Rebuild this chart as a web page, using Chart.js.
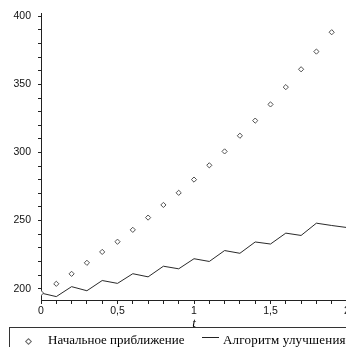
<!DOCTYPE html>
<html>
<head>
<meta charset="utf-8">
<script src="https://cdn.jsdelivr.net/npm/chart.js@4/dist/chart.umd.min.js"></script>
<style>
  html, body { margin: 0; padding: 0; background: #fff; overflow: hidden; width: 346px; height: 347px; }
  #plot { position: absolute; left: 0; top: 0; }
  #legend { position: absolute; left: 9px; top: 327px; width: 380px; height: 40px; border: 1px solid #333; box-sizing: border-box; }
  .lg-text { position: absolute; top: 333px; font: 13px "Liberation Serif", "Times New Roman", serif; line-height: 13px; color: #000; white-space: nowrap; }
  #lg-diamond { position: absolute; left: 26px; top: 339px; width: 3px; height: 3px; border: 1px solid #666; transform: rotate(45deg); }
  #lg-line { position: absolute; left: 202px; top: 337px; width: 17px; height: 1px; background: #222; }
</style>
</head>
<body>
<canvas id="plot" width="352" height="347"></canvas>
<div id="legend"></div>
<span id="lg-diamond"></span>
<span class="lg-text" style="left:48px">Начальное приближение</span>
<span id="lg-line"></span>
<span class="lg-text" style="left:223px;letter-spacing:0.2px">Алгоритм улучшения</span>
<script>
const tValues = [0, 0.1, 0.2, 0.3, 0.4, 0.5, 0.6, 0.7, 0.8, 0.9, 1.0,
                 1.1, 1.2, 1.3, 1.4, 1.5, 1.6, 1.7, 1.8, 1.9, 2.0];
// начальное приближение (точки); последняя выходит за верх графика
const initialApprox = [196.8, 203.6, 210.9, 219.0, 227.0, 234.5, 243.2, 252.2, 261.5, 270.4, 280.1,
                       290.6, 300.8, 312.3, 323.4, 335.3, 348.0, 361.1, 374.1, 388.3, 404.0];
// результат алгоритма улучшения (линия)
const improved = [196.8, 194.2, 201.5, 198.5, 206.0, 203.9, 211.0, 208.7, 216.5, 214.6, 222.0,
                  220.0, 228.0, 226.0, 234.3, 232.8, 240.8, 239.1, 248.1, 246.4, 244.9];
// view range (kept off the step grid so ticks land on whole tens)
const yMin = 191.7, yMax = 402.2;
const xMin = 0, xMax = 2;

const tickFont = { family: '"Liberation Sans", Arial, sans-serif', size: 10.5 };

function toXY(ys) { return tValues.map((t, i) => ({ x: t, y: ys[i] })); }
function isMult(v, step) { const q = v / step; return Math.abs(q - Math.round(q)) < 1e-6; }
function fmtComma(v) { return (Math.round(v * 10) / 10).toString().replace('.', ','); }

const ctx = document.getElementById('plot').getContext('2d');
new Chart(ctx, {
  type: 'scatter',
  data: {
    datasets: [
      {
        label: 'Начальное приближение',
        data: toXY(initialApprox),
        showLine: false,
        clip: 0,
        pointStyle: 'rectRot',
        pointRadius: 2.6,
        borderColor: '#505050',
        backgroundColor: '#ffffff',
        borderWidth: 1,
      },
      {
        label: 'Алгоритм улучшения',
        data: toXY(improved),
        showLine: true,
        borderColor: '#2a2a2a',
        borderWidth: 1,
        pointRadius: 0,
        tension: 0,
      }
    ]
  },
  options: {
    responsive: false,
    animation: false,
    layout: { padding: { top: 12, right: 5, bottom: 0, left: 0 } },
    plugins: { legend: { display: false }, tooltip: { enabled: false } },
    scales: {
      x: {
        type: 'linear',
        min: xMin, max: xMax,
        afterFit: s => { s.height = 47; },
        ticks: {
          stepSize: 0.1,
          autoSkip: false,
          maxRotation: 0,
          padding: 1,
          color: '#111',
          font: tickFont,
          callback: v => isMult(v, 0.5) ? fmtComma(v) : '',
        },
        grid: { drawOnChartArea: false, tickLength: 4, tickColor: '#222' },
        border: { display: true, color: '#222', width: 1 },
        title: {
          display: true, text: 't', color: '#000',
          font: { family: '"Liberation Serif", serif', size: 13, style: 'italic', lineHeight: 1 },
          padding: { top: 0, bottom: 17 },
        },
      },
      y: {
        type: 'linear',
        min: yMin, max: yMax,
        afterFit: s => { s.width = 41; },
        ticks: {
          stepSize: 10,
          includeBounds: false,
          autoSkip: false,
          padding: 7,
          color: '#111',
          font: tickFont,
          callback: v => isMult(v, 50) ? v : '',
        },
        grid: {
          drawOnChartArea: false,
          tickLength: 3,
          tickColor: c => (c.tick && isMult(c.tick.value, 10)) ? '#222' : 'rgba(0,0,0,0)',
        },
        border: { display: true, color: '#222', width: 1 },
      }
    }
  }
});
</script>
</body>
</html>
